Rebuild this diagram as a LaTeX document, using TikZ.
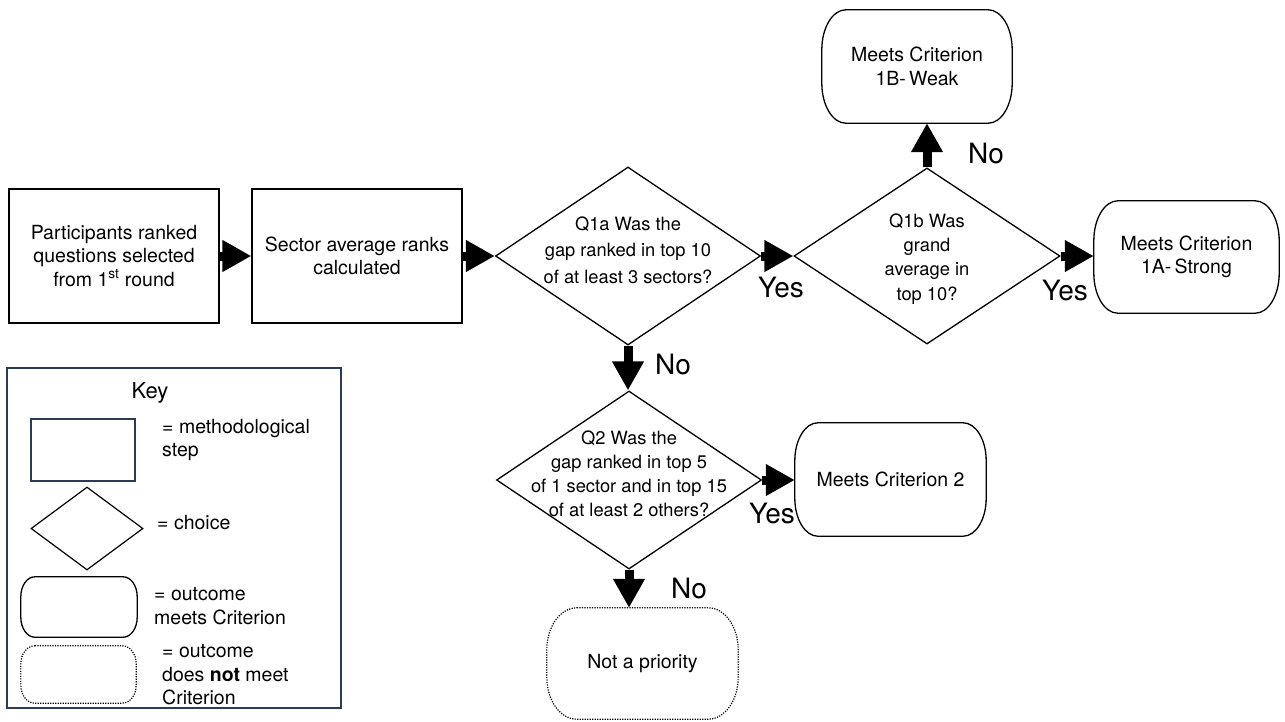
\documentclass[tikz,border=0pt]{standalone}
\usepackage{fontspec}
\setmainfont{TeX Gyre Heros}
\usetikzlibrary{shapes.geometric,arrows.meta,calc}
\definecolor{keynavy}{RGB}{44,58,88}
\newcommand\termpath[4]{%
  \draw[#1] ([xshift=#3]#2.north west) -- ([xshift=-#3]#2.north east)
    arc[start angle=90,end angle=0,x radius=#3,y radius=#4]
    -- ([yshift=#4]#2.south east)
    arc[start angle=0,end angle=-90,x radius=#3,y radius=#4]
    -- ([xshift=#3]#2.south west)
    arc[start angle=270,end angle=180,x radius=#3,y radius=#4]
    -- ([yshift=-#4]#2.north west)
    arc[start angle=180,end angle=90,x radius=#3,y radius=#4] -- cycle;}
\begin{document}
\begin{tikzpicture}[x=1pt,y=-1pt,
  stepbox/.style={draw=black,line width=1.3pt,rectangle,inner sep=0pt,align=center,
    font=\fontsize{19.5}{23.5}\selectfont},
  termnode/.style={rectangle,inner sep=0pt,align=center,
    font=\fontsize{19.5}{23.5}\selectfont},
  choicebox/.style={draw=black,line width=1.3pt,diamond,inner sep=0pt},
  qtext/.style={align=center,inner sep=0pt},
  bigarrow/.style={line width=9pt,-{Triangle[length=29pt 0,width=30pt 0]}},
  yn/.style={font=\fontsize{28}{30}\selectfont,inner sep=0pt},
  keytext/.style={anchor=west,align=left,inner sep=0pt,
    font=\fontsize{19.5}{23.5}\selectfont},
  solidline/.style={line width=1.3pt,draw=black},
  dotline/.style={line width=1.2pt,draw=black,dash pattern=on 1.2pt off 1.3pt}
  ]
\useasboundingbox (0,0) rectangle (1285,721);

% main flow
\node[stepbox,minimum width=210pt,minimum height=134pt] (b1) at (114,256)
  {Participants ranked\\questions selected\\from 1\textsuperscript{st} round};
\node[stepbox,minimum width=210pt,minimum height=134pt] (b2) at (357,256)
  {Sector average ranks\\calculated};

\node[choicebox,minimum width=265pt,minimum height=178pt] (q1a) at (628,256) {};
\node[qtext,font=\fontsize{18.3}{26.7}\selectfont] (t1a) at (628,250)
  {Q1a Was the\\gap ranked in top 10\\of at least 3 sectors?};

\node[choicebox,minimum width=266pt,minimum height=176pt] (q1b) at (927,256) {};
\node[qtext,font=\fontsize{18.3}{24.3}\selectfont] (t1b) at (927,259)
  {Q1b Was\\grand\\average in\\top 10?};

\node[choicebox,minimum width=265pt,minimum height=178pt] (q2) at (629,480) {};
\node[qtext,font=\fontsize{18.3}{24}\selectfont] (t2) at (629,474)
  {Q2 Was the\\gap ranked in top 5\\of 1 sector and in top 15\\of at least 2 others?};

\node[termnode,minimum width=190pt,minimum height=113pt] (c1b) at (917,66.5)
  {Meets Criterion\\1B-\,Weak};
\termpath{solidline}{c1b}{24pt}{40pt}
\node[termnode,minimum width=185pt,minimum height=112pt] (c1a) at (1186.5,257)
  {Meets Criterion\\1A-\,Strong};
\termpath{solidline}{c1a}{24pt}{40pt}
\node[termnode,minimum width=191pt,minimum height=113pt] (c2) at (890.5,479.5)
  {Meets Criterion 2};
\termpath{solidline}{c2}{23pt}{38pt}
\node[termnode,minimum width=191pt,minimum height=111pt] (np) at (642.5,663.5)
  {Not a priority};
\termpath{dotline}{np}{30pt}{42pt}

% connectors
\draw[bigarrow] (b1.east) -- (b2.west);
\draw[bigarrow] (b2.east) -- (q1a.west);
\draw[bigarrow] (q1a.east) -- (q1b.west);
\draw[bigarrow] (q1b.east) -- (q1b.east -| c1a.west);
\draw[bigarrow] (q1b.north) -- (q1b.north |- c1b.south);
\draw[bigarrow] (q1a.south) -- (q1a.south |- q2.north);
\draw[bigarrow] (q2.east) -- (q2.east -| c2.west);
\draw[bigarrow] (q2.south) -- (q2.south |- np.north);

% yes / no labels
\node[yn] (y1) at (781,287) {Yes};
\node[yn] (y2) at (1065,290) {Yes};
\node[yn] (y3) at (772,513) {Yes};
\node[yn] (n1) at (986,153) {No};
\node[yn] (n2) at (673,364) {No};
\node[yn] (n3) at (689,588) {No};

% key
\node[draw=keynavy,line width=1.5pt,rectangle,minimum width=334pt,minimum height=340pt]
  (key) at (174,538) {};
\node[inner sep=0pt,font=\fontsize{22}{24}\selectfont] (keyt) at (150,393) {Key};
\node[draw=keynavy,line width=1.3pt,rectangle,minimum width=104pt,minimum height=62pt]
  (kstep) at (83,450) {};
\node[keytext] (kstept) at (162,440) {= methodological\\step};
\node[choicebox,line width=1.2pt,minimum width=112pt,minimum height=83pt] (kchoice) at (87,528.5) {};
\node[keytext] (kchoicet) at (157,523) {= choice};
\node[termnode,minimum width=116pt,minimum height=60pt] (kterm) at (79,607) {};
\termpath{solidline}{kterm}{14pt}{20pt}
\node[keytext] (ktermt) at (154,606) {= outcome\\meets Criterion};
\node[termnode,minimum width=115pt,minimum height=57pt] (kdot) at (78.5,674.5) {};
\termpath{dotline}{kdot}{14pt}{18pt}
\node[keytext] (kdott) at (162,675) {= outcome\\does \textbf{not} meet\\Criterion};
\end{tikzpicture}
\end{document}
